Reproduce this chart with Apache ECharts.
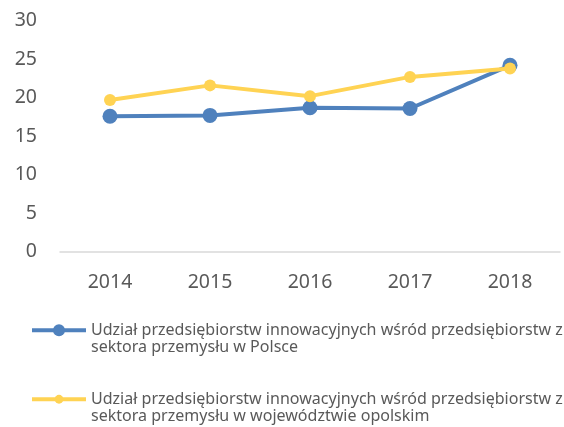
<!DOCTYPE html>
<html>
<head>
<meta charset="utf-8">
<script src="https://cdn.jsdelivr.net/npm/echarts@6/dist/echarts.min.js"></script>
<style>
html,body{margin:0;padding:0;background:#fff;}
#c{width:564px;height:427px;}
</style>
</head>
<body>
<div id="c"></div>
<script>
const years = ['2014', '2015', '2016', '2017', '2018'];
const polska = [17.6, 17.7, 18.7, 18.6, 24.2];
const opolskie = [19.7, 21.6, 20.2, 22.7, 23.8];
const yTicks = [0, 5, 10, 15, 20, 25, 30];
const name1 = 'Udział przedsiębiorstw innowacyjnych wśród przedsiębiorstw z\nsektora przemysłu w Polsce';
const name2 = 'Udział przedsiębiorstw innowacyjnych wśród przedsiębiorstw z\nsektora przemysłu w województwie opolskim';

const BLUE = '#4F81BD';
const YELLOW = '#FFD353';
const TXT = '#595959';
const FONT = 'Noto Sans';

const chart = echarts.init(document.getElementById('c'), null, {renderer: 'canvas'});

function legendFor(name, top, h, color) {
  return {
    orient: 'vertical',
    left: 30,
    top: top,
    padding: 0,
    itemWidth: 54,
    itemHeight: h,
    itemGap: 0,
    data: [name],
    selectedMode: false,
    formatter: n => '\n' + n,
    lineStyle: {width: 4, color: color},
    textStyle: {color: TXT, fontFamily: FONT, fontSize: 16.05, lineHeight: 17.5}
  };
}

chart.setOption({
  animation: false,
  textStyle: {fontFamily: FONT},
  grid: {left: 60, right: 4, top: 20.7, bottom: 175.3, containLabel: false},
  legend: [legendFor(name1, 304, 15, BLUE), legendFor(name2, 373, 11, YELLOW)],
  xAxis: {
    type: 'category',
    data: years,
    boundaryGap: true,
    axisLine: {show: true, lineStyle: {color: '#D9D9D9', width: 1.5}},
    axisTick: {show: false},
    axisLabel: {color: TXT, fontSize: 19.5, fontFamily: FONT, margin: 21}
  },
  yAxis: {
    type: 'value',
    min: yTicks[0],
    max: yTicks[yTicks.length - 1],
    interval: yTicks[1] - yTicks[0],
    axisLine: {show: false},
    axisTick: {show: false},
    splitLine: {show: false},
    axisLabel: {color: TXT, fontSize: 19.5, fontFamily: FONT, margin: 23}
  },
  series: [
    {
      name: name1,
      type: 'line',
      data: polska,
      symbol: 'circle',
      symbolSize: 15,
      lineStyle: {color: BLUE, width: 4},
      itemStyle: {color: BLUE},
      z: 2
    },
    {
      name: name2,
      type: 'line',
      data: opolskie,
      symbol: 'circle',
      symbolSize: 12,
      lineStyle: {color: YELLOW, width: 4},
      itemStyle: {color: YELLOW},
      z: 3
    }
  ]
});
</script>
</body>
</html>
